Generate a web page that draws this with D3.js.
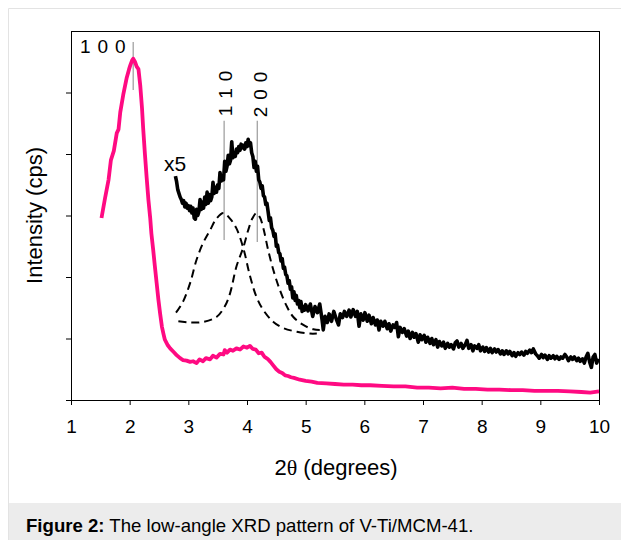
<!DOCTYPE html>
<html>
<head>
<meta charset="utf-8">
<script src="https://cdn.jsdelivr.net/npm/d3@7"></script>
<style>
  html, body { margin: 0; padding: 0; background: #fff; }
  svg { display: block; }
  text { font-family: "Liberation Sans", Arial, sans-serif; }
</style>
</head>
<body>
<svg id="chart" width="621" height="540"></svg>
<script>
// ---------- data ----------
const xTicks = [1, 2, 3, 4, 5, 6, 7, 8, 9, 10];
const yTicks = [0, 1, 2, 3, 4, 5];

// pink: measured pattern
const pinkTheta = [1.52,1.58,1.64,1.68,1.73,1.78,1.81,1.84,1.89,1.95,1.99,2.01,2.04,2.06,2.09,2.12,2.15,2.18,2.21,2.23,2.26,2.29,2.32,2.35,2.37,2.40,2.43,2.46,2.49,2.52,2.55,2.58,2.60,2.65,2.69,2.75,2.80,2.86,2.91,2.97,3.03,3.08,3.14,3.19,3.25,3.30,3.37,3.42,3.48,3.54,3.60,3.62,3.66,3.71,3.76,3.82,3.88,3.94,4.00,4.05,4.10,4.15,4.20,4.25,4.30,4.35,4.40,4.45,4.50,4.55,4.60,4.65,4.70,4.75,4.80,4.90,5.00,5.10,5.20,5.35,5.50,5.65,5.80,5.95,6.10,6.30,6.50,6.70,6.90,7.10,7.30,7.50,7.70,7.90,8.10,8.30,8.50,8.70,8.90,9.10,9.30,9.50,9.70,9.85,10.0];
const pinkIntensity = [2.96,3.28,3.58,3.90,4.05,4.34,4.40,4.68,4.96,5.24,5.38,5.44,5.52,5.55,5.50,5.42,5.38,5.12,4.75,4.42,4.00,3.61,3.25,2.96,2.71,2.45,2.17,1.90,1.63,1.40,1.19,1.06,0.98,0.89,0.84,0.78,0.73,0.68,0.65,0.64,0.62,0.63,0.60,0.66,0.63,0.68,0.66,0.72,0.69,0.75,0.74,0.81,0.77,0.82,0.80,0.84,0.82,0.87,0.85,0.88,0.83,0.82,0.76,0.77,0.70,0.67,0.62,0.56,0.50,0.46,0.44,0.40,0.39,0.37,0.36,0.33,0.31,0.30,0.28,0.27,0.26,0.25,0.25,0.24,0.24,0.23,0.22,0.22,0.20,0.20,0.19,0.20,0.18,0.18,0.17,0.17,0.16,0.16,0.15,0.15,0.15,0.14,0.13,0.12,0.14];

// black: pattern magnified x5
const x5Theta = [2.78,2.80,2.82,2.84,2.86,2.88,2.90,2.92,2.94,2.96,2.98,3.00,3.02,3.04,3.06,3.08,3.10,3.12,3.14,3.16,3.18,3.20,3.22,3.24,3.26,3.28,3.30,3.32,3.34,3.36,3.38,3.40,3.42,3.44,3.46,3.48,3.50,3.52,3.54,3.56,3.58,3.60,3.62,3.64,3.66,3.68,3.70,3.72,3.74,3.76,3.78,3.80,3.82,3.84,3.86,3.88,3.90,3.92,3.94,3.96,3.98,4.00,4.02,4.04,4.06,4.08,4.10,4.12,4.14,4.16,4.18,4.20,4.22,4.24,4.26,4.28,4.30,4.32,4.34,4.36,4.38,4.40,4.42,4.44,4.46,4.48,4.50,4.52,4.54,4.56,4.58,4.60,4.62,4.64,4.66,4.68,4.70,4.72,4.74,4.76,4.78,4.80,4.82,4.84,4.86,4.88,4.90,4.92,4.94,4.96,4.98,
  5.00,5.04,5.08,5.12,5.16,5.20,5.24,5.28,5.30,5.33,5.37,5.40,5.44,5.48,5.52,5.56,5.59,5.63,5.66,5.70,5.74,5.77,5.81,5.85,5.88,5.91,5.94,5.98,6.01,6.05,6.08,6.12,6.15,6.19,6.22,6.25,6.28,6.32,6.35,6.39,6.42,6.45,6.49,6.52,6.55,6.58,6.61,6.65,6.68,6.72,6.75,6.78,6.82,6.85,6.88,6.92,6.95,6.98,7.02,7.05,7.08,7.12,7.15,7.18,7.22,7.25,7.28,7.32,7.35,7.38,7.42,7.45,7.48,7.52,7.55,7.58,7.61,7.65,7.68,7.72,7.75,7.78,7.82,7.85,7.88,7.92,7.95,7.98,8.02,8.05,8.08,8.12,8.15,8.18,8.22,8.25,8.28,8.32,8.35,8.38,8.42,8.45,8.48,8.52,8.55,8.58,8.62,8.65,8.68,8.72,8.75,8.78,8.82,8.85,8.88,8.92,8.95,8.98,9.02,9.05,9.08,9.12,9.15,9.18,9.22,9.25,9.28,9.32,9.35,9.38,9.42,9.45,9.48,9.52,9.55,9.58,9.62,9.65,9.68,9.72,9.75,9.78,9.81,9.84,9.87,9.90,9.93,9.96,9.99];
const x5Intensity = [3.64,3.55,3.42,3.36,3.30,3.26,3.20,3.24,3.14,3.20,3.12,3.16,3.08,3.15,3.04,3.12,2.96,2.94,3.10,3.00,3.06,3.26,3.10,3.22,3.12,3.30,3.18,3.38,3.20,3.34,3.24,3.30,3.54,3.36,3.46,3.38,3.50,3.44,3.70,3.56,3.64,3.58,3.88,3.72,3.80,3.98,3.84,3.90,4.20,3.94,4.00,3.96,4.08,4.02,4.12,4.06,4.16,4.10,4.14,4.08,4.18,4.12,4.24,4.14,4.18,4.02,3.96,3.78,3.88,3.72,3.80,3.58,3.54,3.44,3.48,3.32,3.30,3.18,3.20,3.06,2.92,2.96,2.80,2.76,2.66,2.70,2.50,2.52,2.40,2.38,2.26,2.30,2.14,2.16,2.04,2.02,1.90,1.94,1.80,1.84,1.66,1.76,1.62,1.70,1.56,1.62,1.50,1.60,1.44,1.52,1.46,
  1.55,1.45,1.56,1.36,1.52,1.42,1.56,1.30,1.14,1.36,1.26,1.40,1.28,1.44,1.32,1.22,1.40,1.34,1.44,1.36,1.46,1.35,1.47,1.36,1.44,1.20,1.40,1.30,1.42,1.28,1.38,1.24,1.34,1.22,1.30,1.14,1.28,1.20,1.28,1.16,1.24,1.12,1.22,1.18,1.26,1.03,1.18,1.10,1.16,1.04,1.12,1.00,1.10,1.02,1.08,0.94,1.06,0.98,1.05,0.94,1.02,0.92,1.00,0.90,0.98,0.86,0.95,0.88,0.94,0.84,0.92,0.86,0.90,0.83,0.93,0.96,0.86,0.92,0.84,0.90,0.97,0.84,0.90,0.80,0.88,0.84,0.90,0.80,0.86,0.79,0.85,0.78,0.84,0.77,0.83,0.78,0.82,0.75,0.80,0.74,0.80,0.75,0.79,0.72,0.77,0.71,0.77,0.74,0.78,0.73,0.79,0.76,0.81,0.77,0.83,0.75,0.72,0.68,0.74,0.69,0.73,0.66,0.72,0.68,0.72,0.67,0.71,0.66,0.70,0.68,0.74,0.70,0.64,0.70,0.66,0.70,0.64,0.68,0.63,0.67,0.60,0.70,0.76,0.62,0.53,0.70,0.74,0.60,0.67];

// dashed fitted peaks
const peak110Theta = [2.79,2.91,3.03,3.14,3.25,3.37,3.48,3.60,3.71,3.82,3.94,4.05,4.16,4.28,4.45,4.62,4.85,5.07,5.19];
const peak110Intensity = [1.42,1.60,1.90,2.28,2.55,2.76,2.95,3.04,2.95,2.79,2.46,2.02,1.68,1.46,1.27,1.17,1.11,1.08,1.08];
const peak200Theta = [2.83,3.03,3.25,3.48,3.62,3.71,3.82,3.94,4.02,4.09,4.16,4.22,4.28,4.36,4.45,4.56,4.68,4.79,4.96,5.13,5.24];
const peak200Intensity = [1.28,1.26,1.27,1.35,1.52,1.73,2.17,2.49,2.76,2.95,3.04,2.97,2.79,2.44,2.11,1.79,1.52,1.35,1.22,1.15,1.14];

// reflection labels
const reflLabels = ["1 0 0", "1 1 0", "2 0 0"];
const reflTheta = [2.06, 3.61, 4.175];
const reflTop = [5.82, 4.54, 4.54];
const reflBottom = [5.04, 2.60, 2.57];

// ---------- drawing ----------
const svg = d3.select("#chart");
const W = 621, H = 540;
const m = {left: 71, right: 599, top: 31, bottom: 400};

svg.append("rect").attr("x", 0).attr("y", 0).attr("width", W).attr("height", H).attr("fill", "#fff");
svg.append("rect").attr("x", 8).attr("y", 503).attr("width", W - 8).attr("height", H - 503).attr("fill", "#ececec");
svg.append("path").attr("d", `M8.5,${H} V8.5 H${W}`).attr("fill", "none").attr("stroke", "#e3e3e3").attr("stroke-width", 1);

const x = d3.scaleLinear().domain([1, 10]).range([m.left, m.right]);
const y = d3.scaleLinear().domain([0, 6]).range([m.bottom, m.top]);

const xAxis = d3.axisBottom(x).tickValues(xTicks).tickSize(5).tickPadding(15).tickFormat(d3.format("d"));
const gx = svg.append("g").attr("transform", `translate(0,${m.bottom})`).call(xAxis);
gx.select(".domain").remove();
gx.selectAll("line").attr("stroke", "#000");
gx.selectAll("text").attr("font-size", 19).attr("fill", "#000")
  .attr("font-family", "'Liberation Sans', Arial, sans-serif");

const yAxis = d3.axisLeft(y).tickValues(yTicks).tickSize(5).tickFormat("");
const gy = svg.append("g").attr("transform", `translate(${m.left},0)`).call(yAxis);
gy.select(".domain").remove();
gy.selectAll("line").attr("stroke", "#000");

svg.append("rect")
  .attr("x", m.left + 0.5).attr("y", m.top + 0.5)
  .attr("width", m.right - m.left).attr("height", m.bottom - m.top)
  .attr("fill", "none").attr("stroke", "#000").attr("stroke-width", 1);

const xt = svg.append("text").attr("x", 336).attr("y", 475).attr("text-anchor", "middle")
  .attr("font-size", 22).attr("fill", "#000");
xt.append("tspan").text("2");
xt.append("tspan").attr("font-family", "'Liberation Serif', 'Times New Roman', serif").text("θ");
xt.append("tspan").text(" (degrees)");

svg.append("text").attr("transform", "translate(42,215.5) rotate(-90)").attr("text-anchor", "middle")
  .attr("font-size", 22).attr("fill", "#000").text("Intensity (cps)");

reflTheta.forEach((t, i) => {
  svg.append("line")
    .attr("x1", x(t)).attr("x2", x(t))
    .attr("y1", y(reflTop[i])).attr("y2", y(reflBottom[i]))
    .attr("stroke", "#9a9a9a").attr("stroke-width", 1.2);
});

const dashLine = d3.line().x(d => x(d[0])).y(d => y(d[1])).curve(d3.curveCatmullRom);
[[peak110Theta, peak110Intensity], [peak200Theta, peak200Intensity]].forEach(([tx, iy]) => {
  svg.append("path").datum(tx.map((t, i) => [t, iy[i]]))
    .attr("d", dashLine).attr("fill", "none").attr("stroke", "#000")
    .attr("stroke-width", 2).attr("stroke-dasharray", "8,5");
});

const line = d3.line().x(d => x(d[0])).y(d => y(d[1]));
svg.append("path").datum(x5Theta.map((t, i) => [t, x5Intensity[i]]))
  .attr("d", line).attr("fill", "none").attr("stroke", "#000")
  .attr("stroke-width", 3.6).attr("stroke-linejoin", "round");
svg.append("path").datum(pinkTheta.map((t, i) => [t, pinkIntensity[i]]))
  .attr("d", line).attr("fill", "none").attr("stroke", "#ff0a82")
  .attr("stroke-width", 3.8).attr("stroke-linejoin", "round");

svg.append("text").attr("x", 80).attr("y", 53).attr("font-size", 19).attr("letter-spacing", 0.8)
  .attr("fill", "#000").text(reflLabels[0]);
svg.append("text").attr("transform", "translate(232,93) rotate(-90)").attr("text-anchor", "middle")
  .attr("font-size", 19).attr("letter-spacing", 0.8).attr("fill", "#000").text(reflLabels[1]);
svg.append("text").attr("transform", "translate(267,94) rotate(-90)").attr("text-anchor", "middle")
  .attr("font-size", 19).attr("letter-spacing", 0.8).attr("fill", "#000").text(reflLabels[2]);
svg.append("text").attr("x", 164).attr("y", 171).attr("font-size", 21).attr("fill", "#000").text("x5");

const cap = svg.append("text").attr("x", 26).attr("y", 532).attr("font-size", 18.6).attr("fill", "#000");
cap.append("tspan").attr("font-weight", "bold").text("Figure 2:");
cap.append("tspan").text(" The low-angle XRD pattern of V-Ti/MCM-41.");
</script>
</body>
</html>
